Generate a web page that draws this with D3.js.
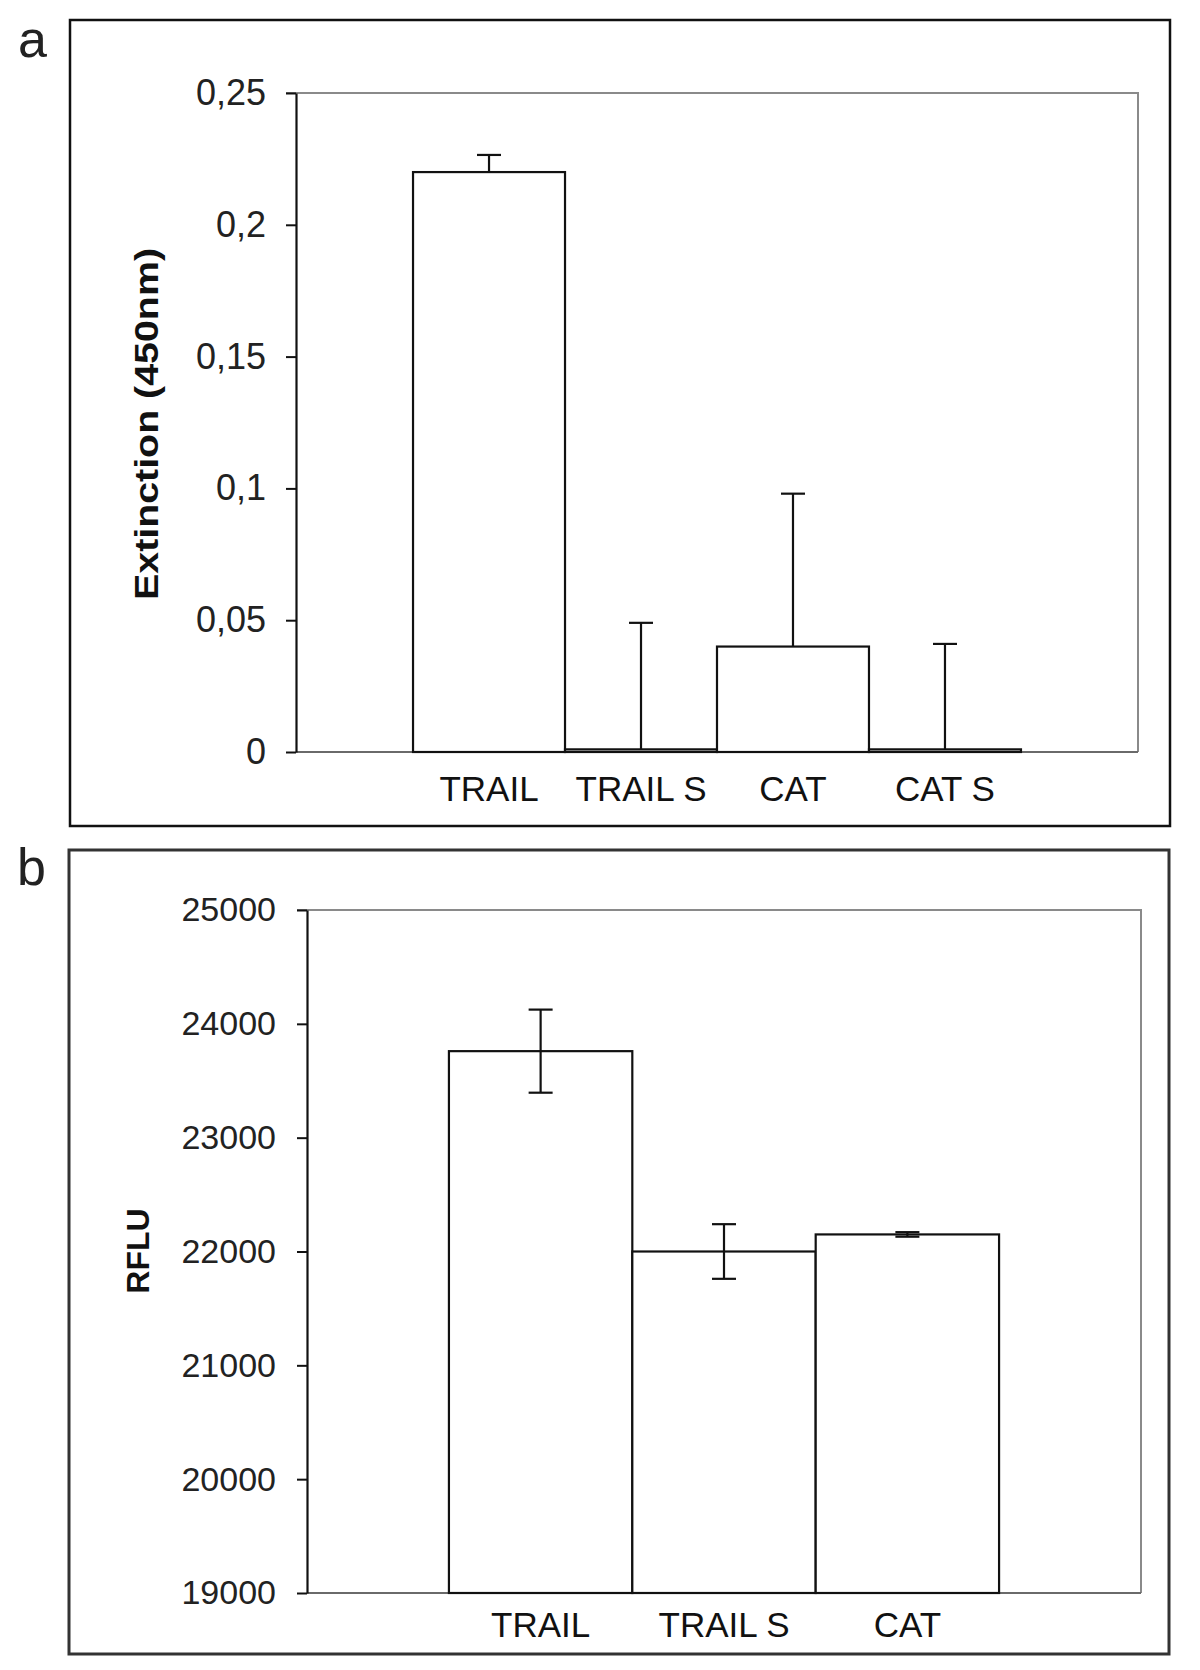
<!DOCTYPE html>
<html>
<head>
<meta charset="utf-8">
<script src="https://cdn.jsdelivr.net/npm/d3@7"></script>
<style>
  html, body { margin: 0; padding: 0; background: #fff; }
  svg { display: block; }
  text { font-family: Arial, "Liberation Sans", sans-serif; }
</style>
</head>
<body>
<svg id="chart" width="1200" height="1670"></svg>
<script>
// ---- Panel a data ----
const categoriesA = ["TRAIL", "TRAIL S", "CAT", "CAT S"];
const valuesA = [0.22, 0.001, 0.04, 0.001];
const errorsA = [0.0065, 0.048, 0.058, 0.040];
const ticksA = [0, 0.05, 0.1, 0.15, 0.2, 0.25];
const tickLabelsA = ["0", "0,05", "0,1", "0,15", "0,2", "0,25"];
const yTitleA = "Extinction (450nm)";

// ---- Panel b data ----
const categoriesB = ["TRAIL", "TRAIL S", "CAT"];
const valuesB = [23760, 22000, 22150];
const errorsB = [365, 240, 20];
const ticksB = [19000, 20000, 21000, 22000, 23000, 24000, 25000];
const tickLabelsB = ["19000", "20000", "21000", "22000", "23000", "24000", "25000"];
const yTitleB = "RFLU";

const svg = d3.select("#chart");

function panel(cfg) {
  const g = svg.append("g");
  // outer frame
  g.append("rect")
    .attr("x", cfg.frame[0]).attr("y", cfg.frame[1])
    .attr("width", cfg.frame[2] - cfg.frame[0]).attr("height", cfg.frame[3] - cfg.frame[1])
    .attr("fill", "none").attr("stroke", cfg.frameColor).attr("stroke-width", cfg.frameWidth);
  // panel letter
  g.append("text").attr("x", cfg.letterPos[0]).attr("y", cfg.letterPos[1])
    .attr("font-size", 52).attr("fill", "#222").text(cfg.letter);

  const x = d3.scaleBand(cfg.categories, [cfg.plot.left, cfg.plot.right])
    .paddingInner(0).paddingOuter(cfg.outer);
  const y = d3.scaleLinear(cfg.domain, [cfg.plot.bottom, cfg.plot.top]);

  // top & right plot border (gray)
  g.append("path")
    .attr("d", `M${cfg.plot.left - 10},${y(cfg.domain[1])}H${cfg.plot.right}V${y(cfg.domain[0])}`)
    .attr("fill", "none").attr("stroke", "#8a8a8a").attr("stroke-width", 2);
  // baseline (gray)
  g.append("line")
    .attr("x1", cfg.plot.left).attr("x2", cfg.plot.right)
    .attr("y1", y(cfg.domain[0])).attr("y2", y(cfg.domain[0]))
    .attr("stroke", "#6a6a6a").attr("stroke-width", 2);

  // bars
  g.selectAll("rect.bar").data(cfg.values).join("rect").attr("class", "bar")
    .attr("x", (d, i) => x(cfg.categories[i]))
    .attr("width", x.bandwidth())
    .attr("y", d => y(d))
    .attr("height", d => y(cfg.domain[0]) - y(d))
    .attr("fill", "#fff").attr("stroke", "#111").attr("stroke-width", 2.2);

  // error bars
  const eg = g.append("g").attr("stroke", "#111").attr("stroke-width", 2.2);
  cfg.values.forEach((v, i) => {
    const cx = x(cfg.categories[i]) + x.bandwidth() / 2;
    const top = v + cfg.errors[i];
    const bot = cfg.bothSides ? v - cfg.errors[i] : v;
    eg.append("line").attr("x1", cx).attr("x2", cx).attr("y1", y(top)).attr("y2", y(bot));
    eg.append("line").attr("x1", cx - 12).attr("x2", cx + 12).attr("y1", y(top)).attr("y2", y(top));
    if (cfg.bothSides) {
      eg.append("line").attr("x1", cx - 12).attr("x2", cx + 12).attr("y1", y(bot)).attr("y2", y(bot));
    }
  });

  // y axis
  const axis = d3.axisLeft(y).tickValues(cfg.ticks)
    .tickFormat((d, i) => cfg.tickLabels[i]).tickSize(10).tickSizeOuter(0).tickPadding(cfg.tickPad);
  const ag = g.append("g").attr("transform", `translate(${cfg.plot.left},0)`).call(axis);
  ag.select(".domain").attr("stroke", "#111").attr("stroke-width", 2.2);
  ag.selectAll(".tick line").attr("stroke", "#111").attr("stroke-width", 2);
  ag.selectAll(".tick text").attr("font-size", cfg.tickFont).attr("fill", "#222")
    .attr("font-family", "Arial, 'Liberation Sans', sans-serif");

  // category labels
  g.selectAll("text.cat").data(cfg.categories).join("text").attr("class", "cat")
    .attr("x", d => x(d) + x.bandwidth() / 2)
    .attr("y", cfg.catY)
    .attr("text-anchor", "middle").attr("font-size", cfg.catFont).attr("fill", "#111")
    .text(d => d);

  // y title
  const t = g.append("text")
    .attr("transform", `translate(${cfg.titlePos[0]},${cfg.titlePos[1]}) rotate(-90)`)
    .attr("text-anchor", "middle").attr("font-weight", "bold")
    .attr("font-size", cfg.titleFont).attr("fill", "#111").text(cfg.title);
  if (cfg.titleLen) t.attr("textLength", cfg.titleLen).attr("lengthAdjust", "spacingAndGlyphs");
}

panel({
  frame: [70, 20, 1170, 826], frameColor: "#111", frameWidth: 2.5,
  letter: "a", letterPos: [18, 57],
  categories: categoriesA, values: valuesA, errors: errorsA, bothSides: false,
  domain: [0, 0.25], ticks: ticksA, tickLabels: tickLabelsA,
  plot: { left: 296, right: 1138, top: 93, bottom: 752 }, outer: 0.77,
  tickFont: 36, tickPad: 20, catFont: 35, catY: 801,
  title: yTitleA, titleFont: 34, titlePos: [158, 424], titleLen: 352
});

panel({
  frame: [69, 850, 1169, 1654], frameColor: "#333", frameWidth: 3,
  letter: "b", letterPos: [17, 885],
  categories: categoriesB, values: valuesB, errors: errorsB, bothSides: true,
  domain: [19000, 25000], ticks: ticksB, tickLabels: tickLabelsB,
  plot: { left: 307, right: 1141, top: 910, bottom: 1593 }, outer: 0.774,
  tickFont: 34, tickPad: 21, catFont: 35, catY: 1637,
  title: yTitleB, titleFont: 32, titlePos: [149, 1251]
});
</script>
</body>
</html>
